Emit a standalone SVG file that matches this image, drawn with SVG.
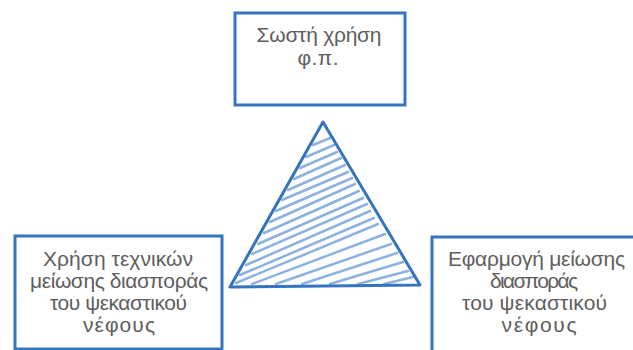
<svg xmlns="http://www.w3.org/2000/svg" width="633" height="350" viewBox="0 0 633 350">
<defs>
<style>
.box{fill:#fff;stroke:#3474c0;stroke-width:3;stroke-linecap:round}
.t{font-family:"Liberation Sans","DejaVu Sans",sans-serif;font-size:21px;fill:#5e5e5e;text-anchor:middle}
.h{fill:none;stroke:#8cb2e2;stroke-width:2.5;stroke-linecap:round;stroke-linejoin:round}
.tri{fill:none;stroke:#3474c0;stroke-width:3;stroke-linejoin:round}
</style>
</defs>
<rect width="633" height="350" fill="#fff"/>
<g id="top">
<rect class="box" x="235" y="13" width="170" height="92"/>
<text class="t" x="319" y="42" textLength="125" lengthAdjust="spacing">Σωστή χρήση</text>
<text class="t" x="318" y="65" textLength="41" lengthAdjust="spacing">φ.π.</text>
</g>
<g id="left">
<rect class="box" x="15" y="236" width="207" height="113"/>
<text class="t" x="118" y="266" textLength="150" lengthAdjust="spacing">Χρήση τεχνικών</text>
<text class="t" x="119" y="288" textLength="178" lengthAdjust="spacing">μείωσης διασποράς</text>
<text class="t" x="118.5" y="310" textLength="137" lengthAdjust="spacing">του ψεκαστικού</text>
<text class="t" x="119" y="332" textLength="72" lengthAdjust="spacing">νέφους</text>
</g>
<g id="right">
<rect class="box" x="432" y="237" width="205" height="115"/>
<text class="t" x="536.5" y="266" textLength="177" lengthAdjust="spacing">Εφαρμογή μείωσης</text>
<text class="t" x="534" y="288" textLength="88" lengthAdjust="spacing">διασποράς</text>
<text class="t" x="534.5" y="310" textLength="145" lengthAdjust="spacing">του ψεκαστικού</text>
<text class="t" x="539" y="332" textLength="75" lengthAdjust="spacing">νέφους</text>
</g>
<g id="triangle">
<path class="h" d="M313,145 L330,138 M306,157 L334,145 M300,168 L337,152 M294,179 L341,158 M288,190 L345,165 M282,200 L348,172 M276,211 L352,178 M270,222 L355,184 M264,233 L359,191 M258,244 L363,198 M252,254 L367,204 M246,265 L370,211 M240,275 L374,218 M236,283 L378,224 M252,284 L385,234 M276,284 L391,244 M302,284 L397,253 M330,284 L403,262 M358,284 L408,271 M384,284 L413,277"/>
<polygon class="tri" points="323,122 230,287 420,285"/>
</g>
</svg>
